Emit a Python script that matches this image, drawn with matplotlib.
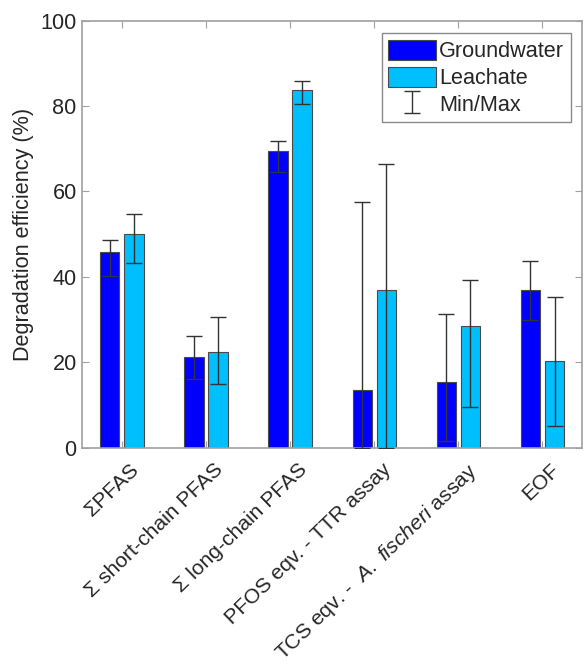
import numpy as np
import matplotlib
matplotlib.use("Agg")
import matplotlib.pyplot as plt
from matplotlib.transforms import ScaledTranslation

plt.rcParams['font.family'] = ['Liberation Sans', 'DejaVu Sans']
plt.rcParams['mathtext.fontset'] = 'custom'
plt.rcParams['mathtext.rm'] = 'Liberation Sans'
plt.rcParams['mathtext.it'] = 'Liberation Sans:italic'

categories = [
    "\u03a3PFAS",
    "\u03a3 short-chain PFAS",
    "\u03a3 long-chain PFAS",
    "PFOS eqv. - TTR assay",
    r"TCS eqv. -  $\it{A.\ fischeri}$ assay",
    "EOF",
]

groundwater = [45.8, 21.2, 69.5, 13.4, 15.4, 36.8]
groundwater_min = [40.3, 16.1, 64.5, 0.0, 1.6, 30.0]
groundwater_max = [48.7, 26.1, 71.8, 57.6, 31.2, 43.6]

leachate = [50.1, 22.4, 83.7, 37.0, 28.4, 20.3]
leachate_min = [43.3, 15.0, 80.5, 0.0, 9.5, 5.0]
leachate_max = [54.7, 30.5, 85.9, 66.4, 39.3, 35.2]

text_color = '#262626'
spine_color = '#a0a0a0'
fs = 15.6
fs_x = 15.2

fig = plt.figure(figsize=(5.87, 6.66), dpi=100)
ax = fig.add_axes([0.1402, 0.3278, 0.8513, 0.6414])

x = np.arange(1, len(categories) + 1)
width = 0.23
offset = 0.143

gw = np.array(groundwater)
le = np.array(leachate)

ax.bar(x - offset, gw, width, color='#0000ff', edgecolor='#4a4a4a',
       linewidth=0.8, label='Groundwater', zorder=2)
ax.bar(x + offset, le, width, color='#00bfff', edgecolor='#4a4a4a',
       linewidth=0.8, label='Leachate', zorder=2)

err_kw = dict(fmt='none', ecolor='#333333', elinewidth=1.0, capsize=5.5,
              capthick=1.0, zorder=3)
ax.errorbar(x - offset, gw,
            yerr=[gw - np.array(groundwater_min), np.array(groundwater_max) - gw],
            **err_kw)
ax.errorbar(x + offset, le,
            yerr=[le - np.array(leachate_min), np.array(leachate_max) - le],
            label='Min/Max', **err_kw)

ax.set_xlim(0.53, 6.47)
ax.set_ylim(0, 100)
ax.set_yticks([0, 20, 40, 60, 80, 100])
ax.set_xticks(x)
ax.set_xticklabels(categories, rotation=44, ha='right', rotation_mode='anchor',
                   fontsize=fs_x, color=text_color)
ax.tick_params(axis='both', direction='in', length=5, width=0.8,
               color=spine_color, top=True, right=True, labelsize=fs,
               labelcolor=text_color, pad=4)
ax.tick_params(axis='x', pad=8, labelsize=fs_x)
# nudge the slanted category labels slightly right
shift = ScaledTranslation(0.08, -0.01, fig.dpi_scale_trans)
for lbl in ax.get_xticklabels():
    lbl.set_transform(lbl.get_transform() + shift)

for s in ax.spines.values():
    s.set_color(spine_color)
    s.set_linewidth(1.2)

ax.set_ylabel('Degradation efficiency (%)', fontsize=fs, color=text_color,
              labelpad=5)

leg = ax.legend(loc='upper right', bbox_to_anchor=(0.977, 0.97),
                fontsize=fs, frameon=True, fancybox=False, framealpha=1,
                edgecolor='#8a8a8a', handlelength=2.2, handleheight=1.05,
                handletextpad=0.15, borderpad=0.3, labelspacing=0.2,
                borderaxespad=0.0)
leg.get_frame().set_linewidth(1.0)
for t in leg.get_texts():
    t.set_color(text_color)

fig.savefig('out.png', dpi=100)
